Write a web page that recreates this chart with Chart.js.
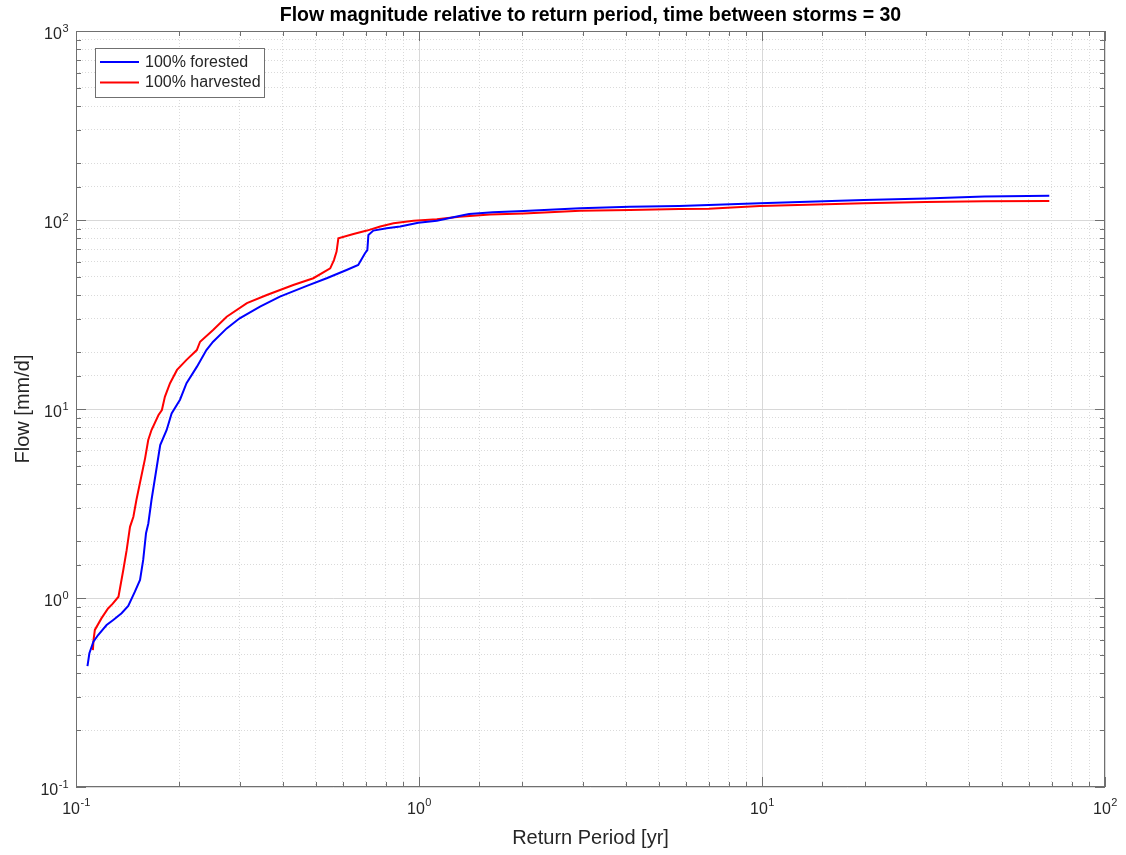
<!DOCTYPE html>
<html>
<head>
<meta charset="utf-8">
<title>Flow magnitude relative to return period</title>
<script src="https://cdn.jsdelivr.net/npm/chart.js@4/dist/chart.umd.min.js"></script>
<style>
  html, body { margin: 0; padding: 0; background: #fff; }
  #wrap { width: 1126px; height: 855px; position: relative; }
</style>
</head>
<body>
<div id="wrap"><canvas id="flowChart"></canvas></div>
<script>
// return period [yr] and flow [mm/d]
const forestedPeriod = [0.108, 0.1094, 0.1124, 0.116, 0.1228, 0.1284, 0.1358, 0.142, 0.1485, 0.1537, 0.157, 0.160, 0.1625, 0.166, 0.172, 0.176, 0.1838, 0.190, 0.201, 0.21, 0.225, 0.240, 0.251, 0.275, 0.30, 0.344, 0.393, 0.471, 0.538, 0.615, 0.665, 0.696, 0.707, 0.712, 0.736, 0.805, 0.881, 0.995, 1.127, 1.31, 1.40, 1.64, 2.02, 2.95, 4.12, 5.73, 7.0, 9.85, 19.8, 30.0, 44.5, 68.8];
const forestedFlow = [0.436, 0.51, 0.587, 0.637, 0.719, 0.765, 0.83, 0.908, 1.08, 1.245, 1.59, 2.20, 2.48, 3.30, 4.95, 6.45, 7.75, 9.48, 11.2, 13.7, 16.7, 20.5, 22.7, 26.7, 30.2, 34.8, 39.3, 44.8, 49.2, 54.4, 57.8, 66.7, 69.3, 83.4, 87.9, 90.4, 92.3, 96.8, 99.2, 105, 107.7, 109.9, 111.6, 115.4, 117.6, 118.5, 120, 122.5, 127.6, 130, 133, 134.5];

const harvestedPeriod = [0.112, 0.1125, 0.1135, 0.1186, 0.124, 0.128, 0.133, 0.1374, 0.1405, 0.1437, 0.147, 0.150, 0.155, 0.159, 0.1624, 0.166, 0.174, 0.178, 0.1816, 0.188, 0.197, 0.21, 0.225, 0.230, 0.251, 0.275, 0.315, 0.36, 0.43, 0.492, 0.551, 0.565, 0.575, 0.582, 0.644, 0.705, 0.771, 0.843, 0.964, 1.127, 1.31, 1.61, 2.02, 2.95, 4.12, 5.73, 7.0, 9.85, 19.8, 30, 44.5, 68.8];
const harvestedFlow = [0.53, 0.6, 0.678, 0.78, 0.88, 0.933, 1.016, 1.41, 1.79, 2.38, 2.69, 3.30, 4.39, 5.48, 6.85, 7.74, 9.3, 9.88, 11.6, 13.7, 16.1, 18.2, 20.5, 22.7, 26.2, 30.8, 36.3, 40.1, 45.3, 49.2, 55.5, 61.4, 68, 80, 84.4, 87.9, 92.3, 96, 99, 101, 104, 107, 108.4, 112, 113, 114.3, 114.8, 118.6, 122.5, 124.4, 125.5, 126];

const seriesNames = ['100% forested', '100% harvested'];

const FONT = "'Liberation Sans', Arial, Helvetica, sans-serif";
const AXIS_GRAY = '#707070';
const TEXT_GRAY = '#262626';

function toPoints(xs, ys) {
  return xs.map((x, i) => ({ x: x, y: ys[i] }));
}

function isDecade(v) {
  const l = Math.log10(v);
  return Math.abs(l - Math.round(l)) < 1e-9;
}

// grid: solid at decades, dotted in between (matlab look)
function gridColor(ctx) {
  if (!ctx.tick) return '#dedede';
  return isDecade(ctx.tick.value) ? '#d8d8d8' : '#dadada';
}
function gridDash(ctx) {
  if (!ctx.tick) return [];
  return isDecade(ctx.tick.value) ? [] : [1, 2];
}

// "10" with a raised exponent
function drawPower(ctx, exp, x, y, mode) {
  ctx.font = '16px ' + FONT;
  const base = '10';
  const wBase = ctx.measureText(base).width;
  ctx.font = '11px ' + FONT;
  const sup = String(exp);
  const wSup = ctx.measureText(sup).width;
  let startX;
  let baseY, supY;
  if (mode === 'x') {
    startX = x - (wBase + wSup) / 2;
    baseY = y + 27;
    supY = y + 19;
  } else {
    startX = x - wBase - wSup;
    baseY = y + 8;
    supY = y + 0.5;
  }
  ctx.textAlign = 'left';
  ctx.textBaseline = 'alphabetic';
  ctx.fillStyle = TEXT_GRAY;
  ctx.font = '16px ' + FONT;
  ctx.fillText(base, startX, baseY);
  ctx.font = '11px ' + FONT;
  ctx.fillText(sup, startX + wBase + 0.5, supY);
}

const matlabAxes = {
  id: 'matlabAxes',
  afterDraw(chart) {
    const { ctx, chartArea: a, scales } = chart;
    const xs = scales.x, ys = scales.y;
    ctx.save();

    // box
    ctx.strokeStyle = AXIS_GRAY;
    ctx.lineWidth = 1;
    ctx.setLineDash([]);
    ctx.strokeRect(a.left + 0.5, a.top + 0.5, a.right - a.left - 1, a.bottom - a.top - 1);

    // inward ticks on all four sides
    ctx.beginPath();
    xs.ticks.forEach(t => {
      const px = Math.round(xs.getPixelForValue(t.value)) + 0.5;
      const len = isDecade(t.value) ? 10 : 5;
      ctx.moveTo(px, a.bottom); ctx.lineTo(px, a.bottom - len);
      ctx.moveTo(px, a.top); ctx.lineTo(px, a.top + len);
    });
    ys.ticks.forEach(t => {
      const py = Math.round(ys.getPixelForValue(t.value)) + 0.5;
      const len = isDecade(t.value) ? 10 : 5;
      ctx.moveTo(a.left, py); ctx.lineTo(a.left + len, py);
      ctx.moveTo(a.right, py); ctx.lineTo(a.right - len, py);
    });
    ctx.stroke();

    // tick labels at the decades
    xs.ticks.forEach(t => {
      if (!isDecade(t.value)) return;
      drawPower(ctx, Math.round(Math.log10(t.value)), xs.getPixelForValue(t.value), a.bottom, 'x');
    });
    ys.ticks.forEach(t => {
      if (!isDecade(t.value)) return;
      drawPower(ctx, Math.round(Math.log10(t.value)), a.left - 8, ys.getPixelForValue(t.value), 'y');
    });

    // legend box, top left inside the axes
    const lx = a.left + 19, ly = a.top + 17, lw = 169, lh = 49;
    ctx.fillStyle = '#ffffff';
    ctx.fillRect(lx, ly, lw, lh);
    ctx.strokeStyle = AXIS_GRAY;
    ctx.strokeRect(lx + 0.5, ly + 0.5, lw, lh);
    ctx.font = '16px ' + FONT;
    ctx.textBaseline = 'middle';
    ctx.textAlign = 'left';
    chart.data.datasets.forEach((ds, i) => {
      const rowY = ly + 14 + i * 20.5;
      ctx.strokeStyle = ds.borderColor;
      ctx.lineWidth = 2;
      ctx.beginPath();
      ctx.moveTo(lx + 5, rowY);
      ctx.lineTo(lx + 44, rowY);
      ctx.stroke();
      ctx.fillStyle = TEXT_GRAY;
      ctx.fillText(ds.label, lx + 50, rowY + 0.5);
    });

    ctx.restore();
  }
};

const flowChart = new Chart(document.getElementById('flowChart'), {
  type: 'line',
  data: {
    datasets: [{
      label: seriesNames[0],
      data: toPoints(forestedPeriod, forestedFlow),
      borderColor: '#0000ff',
      backgroundColor: '#0000ff',
      borderWidth: 2,
      pointRadius: 0,
      tension: 0,
      fill: false
    },
    {
      label: seriesNames[1],
      data: toPoints(harvestedPeriod, harvestedFlow),
      borderColor: '#ff0000',
      backgroundColor: '#ff0000',
      borderWidth: 2,
      pointRadius: 0,
      tension: 0,
      fill: false
    }]
  },
  options: {
    responsive: true,
    maintainAspectRatio: false,
    animation: false,
    layout: { padding: { left: 0, right: 21, top: 0, bottom: 0 } },
    plugins: {
      legend: { display: false },
      tooltip: { enabled: false },
      title: {
        display: true,
        fullSize: false,
        text: 'Flow magnitude relative to return period, time between storms = 30',
        color: '#000000',
        font: { family: FONT, size: 19.5, weight: 'bold', lineHeight: 1 },
        padding: { top: 6, bottom: 5.5 }
      }
    },
    scales: {
      x: {
        type: 'logarithmic',
        position: 'bottom',
        min: 0.1,
        max: 100,
        afterFit(scale) { scale.height = 68; },
        ticks: { display: false, autoSkip: false },
        grid: { color: gridColor, drawTicks: false, lineWidth: 1 },
        border: { display: false, dash: gridDash },
        title: {
          display: true,
          text: 'Return Period [yr]',
          color: TEXT_GRAY,
          font: { family: FONT, size: 20 },
          padding: { top: 0, bottom: 5 }
        }
      },
      y: {
        type: 'logarithmic',
        position: 'left',
        min: 0.1,
        max: 1000,
        afterFit(scale) { scale.width = 76; },
        ticks: { display: false, autoSkip: false },
        grid: { color: gridColor, drawTicks: false, lineWidth: 1 },
        border: { display: false, dash: gridDash },
        title: {
          display: true,
          text: 'Flow [mm/d]',
          color: TEXT_GRAY,
          font: { family: FONT, size: 20 },
          padding: { top: 11, bottom: 0 }
        }
      }
    }
  },
  plugins: [matlabAxes]
});
</script>
</body>
</html>
